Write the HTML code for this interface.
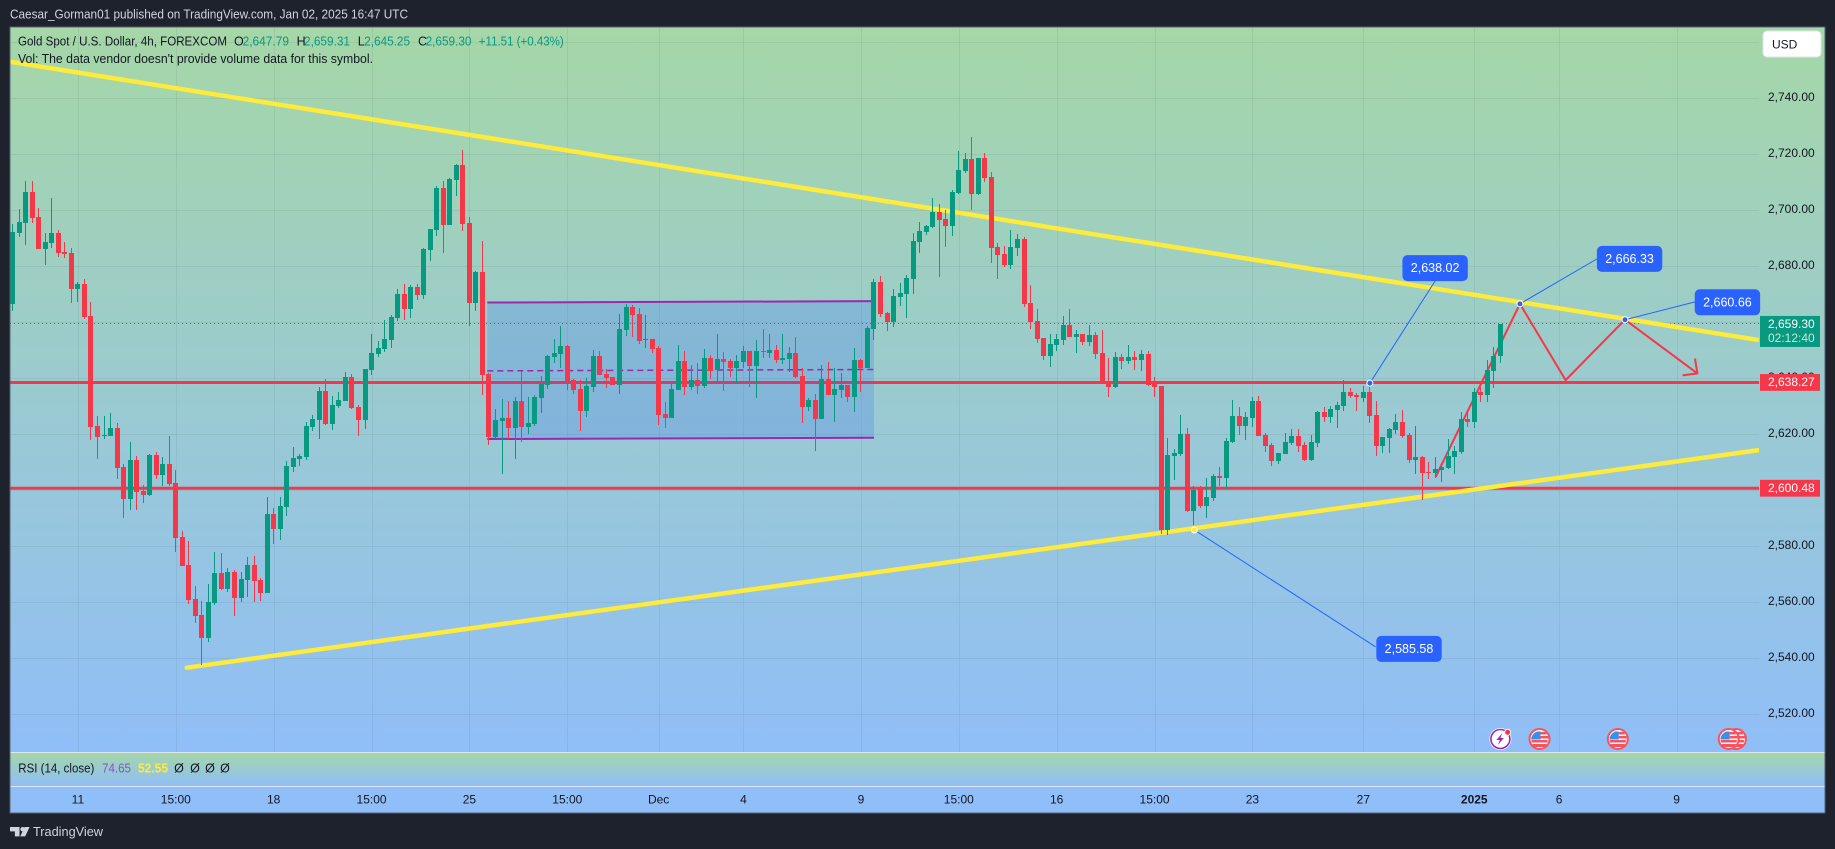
<!DOCTYPE html>
<html lang="en">
<head>
<meta charset="utf-8">
<title>Gold Spot / U.S. Dollar 4h chart</title>
<style>
html,body{margin:0;padding:0;background:#1e222d;width:1835px;height:849px;overflow:hidden}
svg{display:block;font-family:"Liberation Sans",sans-serif}
text{dominant-baseline:central}
</style>
</head>
<body>
<svg id="chart" xmlns="http://www.w3.org/2000/svg" width="1835" height="849" viewBox="0 0 1835 849">
  <defs>
    <linearGradient id="paneGrad" x1="0" y1="0" x2="0" y2="1">
      <stop offset="0" stop-color="#a5d7a7"/>
      <stop offset="1" stop-color="#90bef8"/>
    </linearGradient>
    <clipPath id="plotClip"><rect x="10" y="27" width="1749" height="725"/></clipPath>
    <clipPath id="candleClip"><rect x="10" y="27" width="1749" height="725"/></clipPath>
  </defs>
  <rect x="0" y="0" width="1835" height="849" fill="#1e222d"/>
  <text x="10" y="14.7" font-size="12.5" fill="#d1d4dc" textLength="398" lengthAdjust="spacingAndGlyphs">Caesar_Gorman01 published on TradingView.com, Jan 02, 2025 16:47 UTC</text>

  <rect x="10" y="27" width="1815" height="725" fill="url(#paneGrad)"/>
  <rect x="10" y="752" width="1815" height="34" fill="url(#paneGrad)"/>
  <rect x="10" y="786" width="1815" height="27" fill="#90bef9"/>

  <g id="gridLayer"></g>
  <g id="drawingLayer" clip-path="url(#plotClip)"></g>
  <g id="candleLayer" clip-path="url(#candleClip)" shape-rendering="crispEdges"></g>
  <g id="annotationLayer"></g>
  <g id="eventLayer"></g>
  <g id="priceAxis"></g>
  <g id="timeAxis"></g>

  <line x1="10" y1="752.5" x2="1825" y2="752.5" stroke="#e0e6ee" stroke-width="1"/>
  <line x1="10" y1="786.5" x2="1825" y2="786.5" stroke="#e0e6ee" stroke-width="1"/>
  <rect x="10" y="27" width="1815" height="786" fill="none" stroke="#566072" stroke-width="1"/>

  <g font-size="12.5">
    <text x="18" y="41.7" fill="#131722" textLength="209" lengthAdjust="spacingAndGlyphs">Gold Spot / U.S. Dollar, 4h, FOREXCOM</text>
    <text x="234" y="41.7" fill="#131722">O</text>
    <text x="242.6" y="41.7" fill="#089981" textLength="46.4" lengthAdjust="spacingAndGlyphs">2,647.79</text>
    <text x="296.6" y="41.7" fill="#131722">H</text>
    <text x="304" y="41.7" fill="#089981" textLength="46" lengthAdjust="spacingAndGlyphs">2,659.31</text>
    <text x="357.8" y="41.7" fill="#131722">L</text>
    <text x="364.3" y="41.7" fill="#089981" textLength="45.7" lengthAdjust="spacingAndGlyphs">2,645.25</text>
    <text x="418" y="41.7" fill="#131722">C</text>
    <text x="425.6" y="41.7" fill="#089981" textLength="45.9" lengthAdjust="spacingAndGlyphs">2,659.30</text>
    <text x="478.8" y="41.7" fill="#089981" textLength="84.9" lengthAdjust="spacingAndGlyphs">+11.51 (+0.43%)</text>
    <text x="18" y="59" fill="#131722" textLength="355" lengthAdjust="spacingAndGlyphs">Vol: The data vendor doesn't provide volume data for this symbol.</text>
  </g>

  <g font-size="12.5">
    <text x="18.3" y="768.3" fill="#131722" textLength="76" lengthAdjust="spacingAndGlyphs">RSI (14, close)</text>
    <text x="102" y="768.3" fill="#7e57c2" textLength="29" lengthAdjust="spacingAndGlyphs">74.65</text>
    <text x="138" y="768.3" fill="#ffeb3b" font-weight="bold" textLength="30" lengthAdjust="spacingAndGlyphs">52.55</text>
    <text x="179" y="768.3" fill="#131722" text-anchor="middle">Ø</text>
    <text x="195" y="768.3" fill="#131722" text-anchor="middle">Ø</text>
    <text x="210" y="768.3" fill="#131722" text-anchor="middle">Ø</text>
    <text x="225" y="768.3" fill="#131722" text-anchor="middle">Ø</text>
  </g>

  <g>
    <rect x="1763" y="31" width="58" height="26" rx="4" fill="#ffffff" stroke="#e0e3eb" stroke-width="1"/>
    <text x="1772" y="44.5" font-size="12" fill="#131722">USD</text>
  </g>

  <g>
    <g fill="#d1d4dc">
      <path d="M10 827h9.5v9.4h-4.6v-5h-4.9z"/>
      <circle cx="22.6" cy="829.2" r="2.2"/>
      <path d="M24.6 827h5l-4.4 9.4h-5z"/>
    </g>
    <text x="33" y="831.3" font-size="13" fill="#d1d4dc" textLength="70" lengthAdjust="spacingAndGlyphs">TradingView</text>
  </g>
</svg>

<script>
/* ---- chart values ---- */
const opens = [
2666.3,2691.5,2695.1,2706.2,2697.3,2685.8,2688.0,2691.5,2684.8,2684.4,
2671.5,2673.3,2661.9,2622.6,2619.0,2619.0,2621.9,2608.0,2596.5,2610.5,
2599.4,2598.0,2612.3,2605.1,2609.0,2602.3,2583.0,2573.0,2560.8,2555.1,
2546.9,2559.4,2570.1,2564.4,2570.5,2561.2,2567.6,2573.0,2567.6,2563.0,
2591.2,2585.8,2593.7,2608.0,2610.8,2611.5,2622.3,2624.8,2635.1,2623.3,
2629.8,2631.5,2640.1,2629.4,2624.8,2642.6,2648.3,2650.1,2653.3,2661.2,
2669.8,2664.4,2672.3,2669.4,2685.5,2692.6,2707.6,2694.4,2710.5,2715.8,
2695.1,2666.5,2677.6,2641.2,2618.7,2624.4,2625.5,2621.9,2631.5,2622.3,
2623.3,2632.6,2637.3,2647.3,2648.3,2651.2,2639.0,2635.8,2628.0,2636.5,
2647.6,2641.2,2640.1,2637.3,2656.9,2665.1,2662.6,2653.3,2653.7,2650.5,
2626.9,2625.5,2635.5,2645.8,2636.5,2639.0,2636.9,2646.9,2642.6,2646.5,
2645.8,2643.3,2645.5,2649.4,2644.0,2649.4,2648.7,2649.8,2646.2,2646.5,
2648.7,2640.5,2629.4,2631.9,2625.1,2639.4,2633.7,2635.5,2637.3,2633.0,
2646.2,2643.3,2657.3,2674.0,2663.0,2659.8,2668.7,2669.8,2675.1,2688.3,
2691.9,2693.7,2699.0,2696.5,2694.0,2705.8,2713.7,2718.0,2705.5,2718.3,
2711.5,2686.5,2684.0,2680.1,2686.2,2689.4,2666.5,2660.1,2654.0,2647.6,
2651.5,2653.3,2658.7,2654.4,2655.5,2652.6,2655.1,2648.7,2638.3,2636.5,
2647.3,2645.8,2647.3,2646.2,2648.3,2638.0,2636.9,2585.5,2611.9,2612.6,
2619.8,2592.3,2600.1,2594.0,2596.9,2604.8,2604.0,2616.9,2626.2,2622.6,
2625.5,2631.5,2619.4,2615.8,2610.1,2612.6,2616.5,2619.0,2615.8,2610.5,
2616.5,2627.6,2625.8,2628.3,2629.8,2634.8,2633.7,2632.6,2634.8,2626.5,
2615.5,2618.3,2621.2,2624.0,2619.4,2610.5,2611.5,2606.2,2605.8,2606.9,
2607.6,2611.5,2613.3,2625.1,2624.0,2634.8,2633.7,2642.3,2647.79];
const closes = [
2691.9,2695.5,2706.2,2696.9,2685.8,2688.3,2691.5,2684.4,2684.0,2671.5,
2673.3,2661.5,2622.3,2618.7,2619.4,2621.9,2607.6,2596.5,2610.5,2599.0,
2598.0,2612.3,2605.1,2609.0,2601.9,2582.6,2572.6,2560.5,2554.8,2546.9,
2559.8,2570.1,2564.4,2570.5,2561.2,2568.0,2573.0,2567.3,2563.0,2591.2,
2585.8,2594.0,2608.3,2611.2,2611.9,2622.6,2625.1,2635.1,2623.3,2630.1,
2631.9,2640.1,2629.0,2624.8,2643.0,2648.7,2650.5,2653.7,2661.5,2669.8,
2664.4,2672.3,2669.4,2685.8,2693.0,2707.6,2694.4,2710.8,2715.8,2694.8,
2666.5,2677.6,2640.8,2618.7,2624.8,2625.5,2621.9,2631.5,2622.3,2623.7,
2633.0,2637.6,2647.6,2648.7,2651.2,2638.7,2635.5,2628.0,2636.9,2647.6,
2640.8,2639.8,2637.3,2657.3,2665.1,2662.3,2653.0,2653.7,2650.1,2626.5,
2625.5,2635.8,2645.8,2636.5,2639.0,2636.9,2646.9,2642.3,2646.5,2645.5,
2643.3,2645.8,2649.4,2644.0,2649.4,2649.0,2649.8,2646.2,2646.9,2648.7,
2640.1,2629.4,2631.9,2625.1,2639.4,2633.7,2635.8,2637.3,2633.0,2646.2,
2643.3,2657.6,2674.0,2662.6,2659.8,2669.0,2670.1,2675.5,2688.7,2692.3,
2694.0,2699.0,2696.2,2694.0,2706.2,2714.0,2718.0,2705.5,2718.3,2711.2,
2686.2,2683.7,2680.1,2686.5,2689.4,2666.2,2659.8,2653.7,2647.6,2651.9,
2653.7,2658.7,2654.4,2655.5,2652.6,2655.1,2648.3,2638.3,2636.5,2647.3,
2645.8,2647.3,2646.2,2648.3,2637.3,2636.5,2585.5,2612.3,2613.0,2619.8,
2592.3,2599.8,2594.0,2597.3,2604.8,2604.0,2617.3,2626.2,2622.6,2625.8,
2631.5,2619.0,2615.5,2610.1,2613.0,2616.9,2619.0,2615.5,2610.5,2616.9,
2627.6,2625.8,2628.7,2630.1,2634.8,2633.3,2633.0,2634.8,2626.2,2615.5,
2618.7,2621.5,2624.0,2619.0,2610.5,2611.5,2605.8,2605.8,2607.3,2608.0,
2611.9,2613.7,2625.1,2624.0,2634.8,2633.7,2642.6,2647.6,2659.30];
const highs = [
2694.8,2700.1,2710.1,2710.1,2700.5,2691.5,2704.0,2692.6,2688.3,2686.2,
2674.0,2675.1,2666.9,2626.2,2626.2,2627.3,2623.7,2609.0,2616.9,2611.9,
2601.5,2612.6,2613.3,2611.5,2619.0,2606.9,2585.1,2581.5,2565.5,2560.1,
2566.2,2577.6,2577.3,2571.9,2571.2,2570.5,2575.8,2576.2,2568.3,2597.3,
2593.3,2597.3,2610.1,2615.1,2612.6,2624.0,2626.5,2636.5,2639.4,2633.3,
2634.8,2641.9,2641.2,2630.1,2643.0,2655.5,2653.0,2660.5,2662.3,2671.5,
2673.3,2672.9,2673.3,2686.2,2693.0,2708.3,2710.1,2711.2,2716.2,2721.2,
2697.3,2678.0,2688.7,2641.5,2628.7,2632.3,2631.5,2633.0,2642.3,2633.0,
2633.7,2640.5,2648.0,2653.7,2658.3,2651.5,2639.4,2639.0,2639.8,2649.8,
2649.4,2643.0,2640.1,2662.6,2666.2,2665.8,2664.8,2662.3,2653.7,2651.2,
2631.2,2637.6,2651.5,2649.4,2644.4,2645.1,2650.1,2648.0,2655.5,2649.0,
2646.5,2648.0,2651.2,2649.4,2653.3,2657.3,2655.5,2651.5,2655.5,2650.8,
2654.4,2643.3,2632.6,2634.0,2644.4,2645.5,2643.3,2641.5,2637.3,2650.5,
2646.5,2658.3,2675.1,2676.2,2663.3,2671.5,2673.7,2676.5,2691.5,2695.5,
2694.4,2704.0,2701.9,2699.8,2706.9,2720.8,2720.1,2725.8,2718.3,2720.1,
2713.3,2688.0,2686.9,2692.6,2691.2,2690.1,2672.9,2664.4,2654.0,2655.5,
2655.5,2661.9,2664.4,2656.9,2655.5,2658.7,2656.2,2656.9,2646.9,2649.0,
2648.3,2651.5,2649.4,2649.8,2649.4,2640.1,2636.9,2618.3,2614.4,2626.5,
2621.9,2601.2,2601.2,2604.0,2605.5,2608.0,2618.3,2631.9,2629.4,2627.6,
2633.0,2633.3,2620.1,2616.5,2613.0,2620.1,2621.5,2621.5,2616.9,2619.4,
2628.0,2629.4,2629.8,2631.2,2639.0,2636.2,2634.4,2636.9,2638.0,2631.5,
2618.7,2621.9,2626.9,2628.3,2620.1,2622.6,2611.9,2609.8,2611.5,2608.3,
2618.0,2615.5,2627.6,2627.3,2636.2,2636.5,2646.2,2650.8,2659.31];
const lows = [
2663.7,2690.1,2687.3,2695.1,2685.8,2680.1,2686.2,2683.0,2682.6,2666.5,
2666.9,2660.8,2617.6,2610.8,2618.0,2619.0,2603.7,2589.8,2592.6,2592.6,
2595.1,2597.6,2603.7,2601.2,2601.2,2577.6,2572.6,2559.0,2552.3,2537.3,
2545.5,2558.7,2564.0,2563.3,2554.8,2559.8,2561.5,2559.8,2560.1,2563.0,
2580.5,2581.9,2590.5,2606.2,2608.3,2610.5,2620.8,2618.0,2623.0,2621.2,
2629.0,2631.5,2628.7,2619.0,2621.5,2640.8,2647.3,2649.0,2650.5,2660.1,
2660.5,2661.2,2667.6,2668.0,2681.5,2690.5,2684.4,2694.4,2704.8,2692.3,
2658.3,2663.7,2633.7,2615.8,2618.3,2605.5,2618.0,2610.8,2616.9,2619.8,
2622.6,2627.3,2635.8,2645.1,2643.3,2635.5,2634.0,2620.8,2625.8,2634.8,
2640.8,2636.2,2637.3,2634.0,2654.8,2654.4,2651.9,2650.5,2648.7,2623.0,
2621.9,2625.5,2635.5,2633.7,2635.5,2634.0,2636.2,2639.4,2638.0,2635.1,
2640.1,2637.6,2643.3,2636.5,2632.6,2646.9,2646.9,2645.1,2644.8,2641.9,
2639.8,2623.7,2628.0,2613.7,2625.1,2633.7,2624.0,2632.6,2631.2,2627.6,
2634.8,2643.3,2653.3,2661.5,2656.5,2658.0,2665.5,2661.2,2669.8,2684.4,
2690.8,2693.3,2675.8,2686.5,2690.5,2705.5,2713.0,2699.8,2705.1,2709.8,
2680.8,2675.1,2679.4,2678.7,2683.3,2665.1,2657.3,2652.3,2646.2,2643.7,
2649.4,2651.5,2654.4,2648.7,2651.5,2651.2,2646.5,2638.3,2633.0,2636.2,
2643.0,2644.8,2642.6,2642.3,2636.9,2633.0,2584.0,2583.7,2603.3,2611.9,
2591.9,2587.3,2593.3,2589.8,2595.8,2601.2,2600.1,2616.5,2619.4,2617.6,
2622.3,2619.0,2613.3,2608.3,2609.0,2612.6,2615.8,2613.3,2610.1,2610.1,
2615.1,2624.0,2623.7,2621.9,2628.0,2632.6,2628.0,2631.2,2623.7,2611.9,
2613.0,2613.0,2619.8,2618.3,2609.4,2605.5,2596.2,2603.7,2604.0,2602.6,
2607.3,2605.5,2612.6,2622.3,2621.9,2631.2,2631.2,2636.2,2645.25];

const priceTicks = [2760,2740,2720,2700,2680,2660,2640,2620,2600,2580,2560,2540,2520];
const priceLabelTicks = [2740,2720,2700,2680,2660,2640,2620,2600,2580,2560,2540,2520];
const timeTickBars = [10,25,40,55,70,85,99,112,130,145,160,175,190,207,224,237,255];
const timeTickLabels = ["11","15:00","18","15:00","25","15:00","Dec","4","9","15:00","16","15:00","23","27","2025","6","9"];

const supportResistancePrices = [2638.27, 2600.48];
const lastPrice = 2659.30;
const lastPriceCountdown = "02:12:40";

const upperTrendBars = [-0.41, 267.6];
const upperTrendPrices = [2752.8, 2653.4];
const lowerTrendBars = [26.67, 267.6];
const lowerTrendPrices = [2536.4, 2614.1];

const channelBars = [72.74, 132.0];
const channelTopPrices = [2666.8, 2667.3];
const channelMidPrices = [2642.4, 2642.9];
const channelBottomPrices = [2618.07, 2618.5];

const forecastBars = [218.1, 231.0, 238.0, 247.1, 258.2];
const forecastPrices = [2604.6, 2666.33, 2639.1, 2660.66, 2641.5];

const calloutBars = [208.0, 231.0, 247.1, 181.1];
const calloutPrices = [2638.02, 2666.33, 2660.66, 2585.58];
const calloutEndBars = [218.0, 242.8, 257.9, 208.9];
const calloutEndPrices = [2674.5, 2682.4, 2667.1, 2543.8];
const calloutLabelBars = [218.0, 247.8, 262.8, 214.0];
const calloutLabelPrices = [2679.1, 2682.4, 2666.9, 2543.1];

const lightningEventBars = [228];
const flagEventBars = [264.1, 234.0, 246.0, 263.0];

/* ---- scales ---- */
const SVG_NS = "http://www.w3.org/2000/svg";
const xScale = bar => 12.67 + 6.525 * bar;
const yScale = price => 433.6 + (2620 - price) * 2.8;
const fmt = v => v.toFixed(2).replace(/\B(?=(\d{3})+(?!\d))/, ",");
function el(tag, attrs, parent, text) {
  const node = document.createElementNS(SVG_NS, tag);
  for (const k in attrs) node.setAttribute(k, attrs[k]);
  if (text !== undefined) node.textContent = text;
  parent.appendChild(node);
  return node;
}
const gridLayer = document.getElementById("gridLayer");
const drawingLayer = document.getElementById("drawingLayer");
const candleLayer = document.getElementById("candleLayer");
const annotationLayer = document.getElementById("annotationLayer");
const eventLayer = document.getElementById("eventLayer");
const priceAxis = document.getElementById("priceAxis");
const timeAxis = document.getElementById("timeAxis");

/* ---- grid ---- */
priceTicks.forEach(p => {
  const y = Math.round(yScale(p)) + 0.5;
  const gridLine = el("line", {x1:10, x2:1759, y1:y, y2:y, stroke:"#2a2e39", "stroke-opacity":0.07}, gridLayer);
  
  
});
timeTickBars.forEach(b => {
  const x = Math.round(xScale(b)) + 0.5;
  const gridLine = el("line", {x1:x, x2:x, y1:27, y2:752, stroke:"#2a2e39", "stroke-opacity":0.07}, gridLayer);
  
  
});

/* ---- drawings behind the candles ---- */
const lastLine = el("line", {x1:10, x2:1759, y1:yScale(lastPrice), y2:yScale(lastPrice), stroke:"#089981", "stroke-width":1, "stroke-dasharray":"1 3"}, drawingLayer);



supportResistancePrices.forEach(p => {
  const level = el("line", {x1:10, x2:1759, y1:yScale(p), y2:yScale(p), stroke:"#f5374a", "stroke-width":3}, drawingLayer);
  
  
});

const upperTrend = el("line", {x1:xScale(upperTrendBars[0]), y1:yScale(upperTrendPrices[0]), x2:xScale(upperTrendBars[1]), y2:yScale(upperTrendPrices[1]), stroke:"#ffeb3b", "stroke-width":4.5}, drawingLayer);


const lowerTrend = el("line", {x1:xScale(lowerTrendBars[0]), y1:yScale(lowerTrendPrices[0]), x2:xScale(lowerTrendBars[1]), y2:yScale(lowerTrendPrices[1]), stroke:"#ffeb3b", "stroke-width":4.5, "stroke-linecap":"round"}, drawingLayer);



const channelPoints = [
  [channelBars[0], channelTopPrices[0]], [channelBars[1], channelTopPrices[1]],
  [channelBars[1], channelBottomPrices[1]], [channelBars[0], channelBottomPrices[0]]
].map(d => xScale(d[0]) + "," + yScale(d[1])).join(" ");
const channelFill = el("polygon", {points:channelPoints, fill:"#2962ff", "fill-opacity":0.2}, drawingLayer);


[[channelTopPrices, "range-channel-top"], [channelBottomPrices, "range-channel-bottom"]].forEach(pair => {
  const edge = el("line", {x1:xScale(channelBars[0]), y1:yScale(pair[0][0]), x2:xScale(channelBars[1]), y2:yScale(pair[0][1]), stroke:"#9c27b0", "stroke-width":2}, drawingLayer);
  
  
});
const channelMid = el("line", {x1:xScale(channelBars[0]), y1:yScale(channelMidPrices[0]), x2:xScale(channelBars[1]), y2:yScale(channelMidPrices[1]), stroke:"#9c27b0", "stroke-width":1.5, "stroke-dasharray":"6 4"}, drawingLayer);



const forecastXY = forecastBars.map((b, i) => [xScale(b), yScale(forecastPrices[i])]);
const forecastLine = el("polyline", {points:forecastXY.map(d => d.join(",")).join(" "), fill:"none", stroke:"#f5374a", "stroke-width":2, "stroke-linejoin":"miter"}, drawingLayer);


const tip = forecastXY[forecastXY.length - 1];
const prev = forecastXY[forecastXY.length - 2];
const backAngle = Math.atan2(prev[1] - tip[1], prev[0] - tip[0]);
const headPoints = [backAngle + 0.77, null, backAngle - 0.77].map(a => a === null ? tip.join(",") : (tip[0] + 15 * Math.cos(a)) + "," + (tip[1] + 15 * Math.sin(a))).join(" ");
const forecastHead = el("polyline", {points:headPoints, fill:"none", stroke:"#f5374a", "stroke-width":2}, drawingLayer);



calloutBars.forEach((b, i) => {
  const leader = el("line", {x1:xScale(b), y1:yScale(calloutPrices[i]), x2:xScale(calloutEndBars[i]), y2:yScale(calloutEndPrices[i]), stroke:"#2962ff", "stroke-width":1}, drawingLayer);
  
  
});

/* ---- candles ---- */
opens.forEach((o, i) => {
  const c = closes[i];
  const color = c >= o ? "#089981" : "#f5374a";
  const bodyX = Math.round(xScale(i) - 2.5);
  const candle = el("g", {fill:color}, candleLayer);
  
  
  const hy = Math.round(yScale(highs[i]));
  const ly = Math.round(yScale(lows[i]));
  const wick = el("rect", {x:bodyX + 2, y:hy, width:1, height:Math.max(1, ly - hy)}, candle);
  
  
  const top = Math.round(yScale(Math.max(o, c)));
  const bottom = Math.round(yScale(Math.min(o, c)));
  const body = el("rect", {x:bodyX, y:top, width:5, height:Math.max(1, bottom - top)}, candle);
  
  
});

/* ---- callout anchors and labels ---- */
calloutBars.forEach((b, i) => {
  const anchor = el("circle", {cx:xScale(b), cy:yScale(calloutPrices[i]), r:3, fill:i === 3 ? "#ffeb3b" : "#2962ff", stroke:"#ffffff", "stroke-width":1}, annotationLayer);
  
  
  const cx = xScale(calloutLabelBars[i]);
  const cy = yScale(calloutLabelPrices[i]);
  const box = el("rect", {x:cx - 32.7, y:cy - 13, width:65.4, height:26, rx:5, fill:"#2962ff"}, annotationLayer);
  
  
  const label = el("text", {x:cx, y:cy, "text-anchor":"middle", "font-size":12.5, fill:"#ffffff"}, annotationLayer, fmt(calloutPrices[i]));
  
  
});

/* ---- event markers ---- */
const eventY = 739;
flagEventBars.forEach(b => {
  const cx = xScale(b);
  const flag = el("g", {}, eventLayer);
  
  
  el("circle", {cx:cx, cy:eventY, r:10, fill:"#ffffff", stroke:"#f7525f", "stroke-width":2}, flag);
  el("rect", {x:cx - 8, y:eventY + 1, width:16, height:2.5, fill:"#f7525f"}, flag);
  el("rect", {x:cx - 7, y:eventY + 5, width:14, height:3, fill:"#f7525f"}, flag);
  el("rect", {x:cx + 1, y:eventY - 7, width:6, height:2.5, fill:"#f7525f"}, flag);
  el("rect", {x:cx + 1, y:eventY - 3, width:8, height:2.5, fill:"#f7525f"}, flag);
  el("path", {d:"M" + (cx - 8.5) + " " + (eventY + 0.5) + "h9.5v-8h-3.5a9 9 0 0 0-6 8z", fill:"#3b8fe6"}, flag);
});
lightningEventBars.forEach(b => {
  const cx = xScale(b);
  const bolt = el("g", {}, eventLayer);
  
  
  el("circle", {cx:cx, cy:eventY, r:11, fill:"#ffffff"}, bolt);
  el("circle", {cx:cx, cy:eventY, r:9.5, fill:"#ffffff", stroke:"#9c27b0", "stroke-width":1.6}, bolt);
  el("path", {d:"M" + (cx + 2) + " " + (eventY - 6) + "l-6 7h3.5l-2 5 6-7h-3.5z", fill:"#9c27b0"}, bolt);
  el("circle", {cx:cx + 7.3, cy:eventY - 6.7, r:3, fill:"#f23645", stroke:"#ffffff", "stroke-width":1}, bolt);
});

/* ---- price axis ---- */
priceLabelTicks.forEach(p => {
  const tick = el("text", {x:1814.7, y:yScale(p) - 0.5, "text-anchor":"end", "font-size":12, fill:"#131722"}, priceAxis, fmt(p));
  
  
});
supportResistancePrices.forEach(p => {
  const y = yScale(p);
  const tag = el("rect", {x:1760, y:y - 8.4, width:60, height:16.8, fill:"#f5374a"}, priceAxis);
  
  
  const tagText = el("text", {x:1814.7, y:y - 0.3, "text-anchor":"end", "font-size":12, fill:"#ffffff"}, priceAxis, fmt(p));
  
  
});
const lastY = yScale(lastPrice);
const lastTag = el("rect", {x:1760, y:lastY - 7.6, width:60, height:31, fill:"#089981"}, priceAxis);


const lastText = el("text", {x:1814.7, y:lastY + 0.2, "text-anchor":"end", "font-size":12, fill:"#ffffff"}, priceAxis, fmt(lastPrice));


const countdownText = el("text", {x:1814.7, y:lastY + 14.2, "text-anchor":"end", "font-size":12, fill:"#c8e6df"}, priceAxis, lastPriceCountdown);



/* ---- time axis ---- */
timeTickBars.forEach((b, i) => {
  const isYear = timeTickLabels[i] === "2025";
  const tick = el("text", {x:xScale(b), y:799.5, "text-anchor":"middle", "font-size":12, "font-weight":isYear ? "bold" : "normal", fill:"#131722"}, timeAxis, timeTickLabels[i]);
  
  
});
</script>
</body>
</html>
